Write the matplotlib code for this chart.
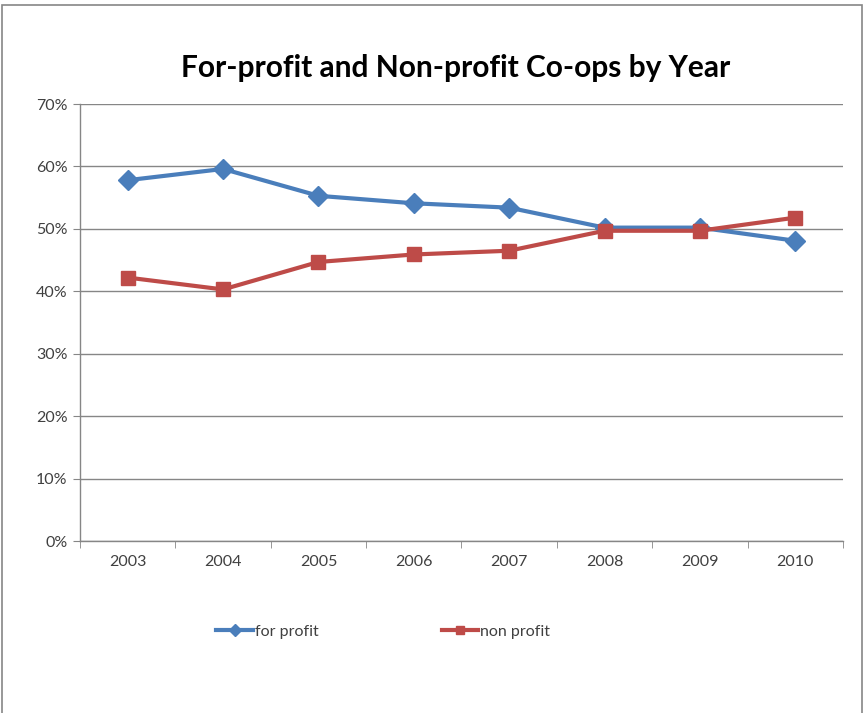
import matplotlib.pyplot as plt
from matplotlib.patches import Rectangle
from matplotlib.ticker import PercentFormatter

plt.rcParams['font.family'] = ['Lato', 'DejaVu Sans']

years = ['2003', '2004', '2005', '2006', '2007', '2008', '2009', '2010']
for_profit = [57.8, 59.6, 55.3, 54.1, 53.4, 50.2, 50.2, 48.1]
non_profit = [42.2, 40.3, 44.7, 45.9, 46.5, 49.7, 49.7, 51.8]

fig = plt.figure(figsize=(8.65, 7.13), dpi=100)
ax = fig.add_axes([0.0925, 0.2412, 0.882, 0.6129])

# outer chart border
fig.patches.append(Rectangle((0.0025, -0.05), 0.994, 1.043, transform=fig.transFigure,
                             fill=False, edgecolor='#868686', linewidth=1.2))

x = list(range(len(years)))
ax.plot(x, for_profit, '-D', color='#4A7EBB', linewidth=3, markersize=10,
        label='for profit', zorder=3)
ax.plot(x, non_profit, '-s', color='#BE4B48', linewidth=3, markersize=10.5,
        label='non profit', zorder=4)

ax.set_xlim(-0.5, len(years) - 0.5)
ax.set_ylim(0, 70)
ax.set_yticks(range(0, 71, 10))
ax.yaxis.set_major_formatter(PercentFormatter(decimals=0))
ax.set_xticks(x)
ax.set_xticklabels(years)
ax.set_xticks([i - 0.5 for i in range(len(years) + 1)], minor=True)
ax.tick_params(axis='x', which='major', length=0, pad=10, labelsize=11.5, labelcolor='#404040')
ax.tick_params(axis='x', which='minor', length=5, color='#868686')
ax.tick_params(axis='y', length=5, color='#868686', labelsize=11.5, labelcolor='#404040', pad=4)

ax.grid(True, axis='y', color='#868686', linewidth=1)
ax.set_axisbelow(True)
for s in ['top', 'right']:
    ax.spines[s].set_visible(False)
for s in ['left', 'bottom']:
    ax.spines[s].set_color('#868686')
    ax.spines[s].set_linewidth(1)

fig.text(0.527, 0.905, 'For-profit and Non-profit Co-ops by Year', ha='center', va='center',
         fontsize=21.5, fontweight='bold', color='black')

leg = fig.legend(loc='center', bbox_to_anchor=(0.443, 0.114), ncol=2, frameon=False,
                 fontsize=11.5, columnspacing=7.7, handlelength=2.3, handletextpad=0.1,
                 markerscale=0.6)
for t in leg.get_texts():
    t.set_color('#404040')

fig.savefig('out.png', dpi=100)
